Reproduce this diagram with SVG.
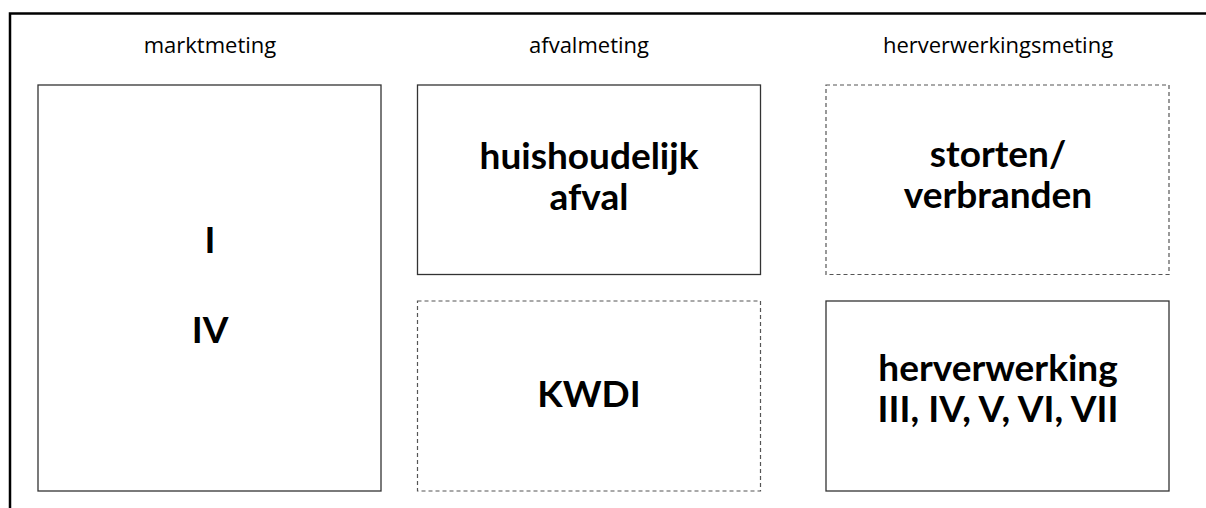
<svg xmlns="http://www.w3.org/2000/svg" width="1206" height="508" viewBox="0 0 1206 508">
<style>
.frame{fill:none;stroke:#000;stroke-width:2.5}
.box{fill:#fff;stroke:#333;stroke-width:1.3}
.dash{fill:#fff;stroke:#555;stroke-width:1.2;stroke-dasharray:4 3}
.hdr{font-family:"Open Sans","Noto Sans",sans-serif;font-size:22px;fill:#000;text-anchor:middle}
.big{font-family:Lato,"Open Sans",sans-serif;font-size:37px;font-weight:bold;fill:#000;text-anchor:middle}
</style>
<polyline class="frame" points="10,508 10,13.5 1206,13.5"/>
<text class="hdr" x="210" y="53">marktmeting</text>
<text class="hdr" x="589" y="53">afvalmeting</text>
<text class="hdr" x="998" y="53">herverwerkingsmeting</text>
<g id="markt">
<rect class="box" x="38" y="85" width="343" height="406"/>
<text class="big" x="210" y="253">I</text>
<text class="big" x="210" y="343">IV</text>
</g>
<g id="huishoudelijk">
<rect class="box" x="417.5" y="85" width="343" height="189.5"/>
<text class="big" x="589" y="169">huishoudelijk</text>
<text class="big" x="589" y="210">afval</text>
</g>
<g id="kwdi">
<rect class="dash" x="417.5" y="301" width="343" height="190"/>
<text class="big" x="589" y="407">KWDI</text>
</g>
<g id="storten">
<rect class="dash" x="826" y="85" width="343" height="189.5"/>
<text class="big" x="998" y="167">storten/</text>
<text class="big" x="998" y="208">verbranden</text>
</g>
<g id="herverwerking">
<rect class="box" x="826" y="301" width="343" height="190"/>
<text class="big" x="998" y="381">herverwerking</text>
<text class="big" x="998" y="422">III, IV, V, VI, VII</text>
</g>
<g id="connectors"></g>
</svg>
